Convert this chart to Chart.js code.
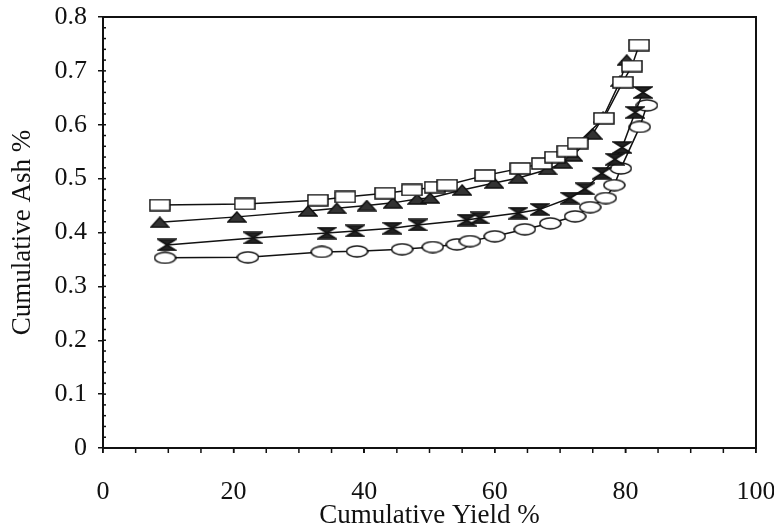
<!DOCTYPE html>
<html>
<head>
<meta charset="utf-8">
<script src="https://cdn.jsdelivr.net/npm/chart.js@4"></script>
<style>
    html, body { margin: 0; padding: 0; background: #fff; }
    #wrap { width: 774px; height: 532px; }
</style>
</head>
<body>
<div id="wrap"><canvas id="ashChart" width="774" height="532"></canvas></div>
<script>
// (x = cumulative yield %, y = cumulative ash %)
var squareX   = [8.7, 21.7, 32.9, 37.1, 43.2, 47.3, 50.8, 52.7, 58.5, 63.9, 67.2, 69.2, 71.1, 72.7, 76.7, 79.6, 81.0, 82.1];
var squareY   = [0.451, 0.453, 0.460, 0.466, 0.473, 0.479, 0.484, 0.488, 0.506, 0.519, 0.528, 0.540, 0.551, 0.566, 0.612, 0.679, 0.709, 0.748];
var triangleX = [8.7, 20.5, 31.4, 35.8, 40.4, 44.4, 48.1, 50.1, 55.0, 59.9, 63.6, 68.1, 70.4, 72.0, 75.0, 76.6, 79.2, 80.2];
var triangleY = [0.419, 0.429, 0.440, 0.445, 0.450, 0.455, 0.462, 0.464, 0.479, 0.492, 0.501, 0.517, 0.529, 0.542, 0.583, 0.614, 0.681, 0.720];
var hourX     = [9.8, 23.0, 34.3, 38.6, 44.3, 48.2, 55.7, 57.7, 63.6, 66.9, 71.5, 73.8, 76.4, 78.4, 79.5, 81.5, 82.7];
var hourY     = [0.377, 0.390, 0.399, 0.403, 0.408, 0.414, 0.423, 0.427, 0.436, 0.443, 0.464, 0.481, 0.510, 0.536, 0.558, 0.623, 0.660];
var circleX   = [9.5, 22.2, 33.5, 38.9, 45.8, 50.5, 54.2, 56.2, 60.0, 64.6, 68.5, 72.3, 74.6, 77.0, 78.3, 79.3, 82.2, 83.3];
var circleY   = [0.353, 0.354, 0.364, 0.365, 0.369, 0.373, 0.378, 0.384, 0.393, 0.406, 0.417, 0.430, 0.447, 0.464, 0.488, 0.519, 0.596, 0.636];

var xTicks = [0, 20, 40, 60, 80, 100];
var yTicks = [0, 0.1, 0.2, 0.3, 0.4, 0.5, 0.6, 0.7, 0.8];

var FONT = '"Liberation Serif", "DejaVu Serif", serif';

// Zip two arrays into {x, y} points
function toPoints(xs, ys) {
    var pts = [];
    for (var i = 0; i < xs.length; i++) {
        pts.push({ x: xs[i], y: ys[i] });
    }
    return pts;
}

// Small offscreen canvases used as point markers
function makeMarker(w, h, drawFn) {
    var c = document.createElement('canvas');
    c.width = w;
    c.height = h;
    var ctx = c.getContext('2d');
    ctx.lineWidth = 1.5;
    ctx.strokeStyle = '#111';
    ctx.fillStyle = '#fff';
    drawFn(ctx, w, h);
    return c;
}

var squareMarker = makeMarker(22, 13, function(ctx, w, h) {
    ctx.fillRect(1, 1, w - 2, h - 2);
    ctx.strokeRect(1, 1, w - 2, h - 2);
});

var triangleMarker = makeMarker(20, 12, function(ctx, w, h) {
    ctx.fillStyle = '#333';
    ctx.beginPath();
    ctx.moveTo(w / 2, 1);
    ctx.lineTo(w - 1, h - 1);
    ctx.lineTo(1, h - 1);
    ctx.closePath();
    ctx.fill();
    ctx.stroke();
});

var hourMarker = makeMarker(20, 13, function(ctx, w, h) {
    ctx.fillStyle = '#222';
    ctx.beginPath();
    ctx.moveTo(1, 1);
    ctx.lineTo(w - 1, 1);
    ctx.lineTo(w / 2, h / 2);
    ctx.lineTo(w - 1, h - 1);
    ctx.lineTo(1, h - 1);
    ctx.lineTo(w / 2, h / 2);
    ctx.closePath();
    ctx.fill();
    ctx.stroke();
});

var circleMarker = makeMarker(23, 13, function(ctx, w, h) {
    ctx.beginPath();
    ctx.ellipse(w / 2, h / 2, w / 2 - 1, h / 2 - 1, 0, 0, Math.PI * 2);
    ctx.fill();
    ctx.stroke();
});

function series(label, xs, ys, marker) {
    return {
        label: label,
        data: toPoints(xs, ys),
        borderColor: '#111',
        borderWidth: 1.5,
        pointStyle: marker,
        pointRadius: 6,
        pointHoverRadius: 6,
        fill: false,
        tension: 0
    };
}

// Frame round the plot area plus the minor ticks
var framePlugin = {
    id: 'frame',
    afterDraw: function(chart) {
        var ctx = chart.ctx;
        var a = chart.chartArea;
        var xs = chart.scales.x;
        var ys = chart.scales.y;
        var v, p;
        ctx.save();
        ctx.strokeStyle = '#111';
        ctx.lineWidth = 1.5;
        // minor ticks on y, inside
        for (v = 0; v <= 80; v += 2) {
            p = ys.getPixelForValue(v / 100);
            ctx.beginPath();
            ctx.moveTo(a.left, p);
            ctx.lineTo(a.left + 3, p);
            ctx.stroke();
        }
        // minor ticks on x, below
        for (v = 0; v <= 100; v += 5) {
            p = xs.getPixelForValue(v);
            ctx.beginPath();
            ctx.moveTo(p, a.bottom);
            ctx.lineTo(p, a.bottom + 5);
            ctx.stroke();
        }
        ctx.lineWidth = 2;
        ctx.strokeRect(a.left, a.top, a.right - a.left, a.bottom - a.top);
        ctx.restore();
    }
};

new Chart(document.getElementById('ashChart'), {
    type: 'line',
    data: {
        datasets: [
            series('squares', squareX, squareY, squareMarker),
            series('triangles', triangleX, triangleY, triangleMarker),
            series('hourglass', hourX, hourY, hourMarker),
            series('circles', circleX, circleY, circleMarker)
        ]
    },
    options: {
        responsive: false,
        animation: false,
        layout: { padding: { top: 17, right: 18, left: 0, bottom: 0 } },
        plugins: {
            legend: { display: false },
            tooltip: { enabled: false }
        },
        scales: {
            x: {
                type: 'linear',
                min: 0,
                max: 100,
                afterFit: function(scale) {
                    scale.height = 84;
                    scale.paddingLeft = 0;   // let "100" hang past the frame
                    scale.paddingRight = 0;
                },
                afterBuildTicks: function(scale) {
                    scale.ticks = xTicks.map(function(v) { return { value: v }; });
                },
                border: { display: false },
                grid: { drawOnChartArea: false, tickLength: 5, color: '#111', lineWidth: 1.5 },
                ticks: {
                    color: '#111',
                    padding: 24,
                    maxRotation: 0,
                    autoSkip: false,
                    font: { family: FONT, size: 26 }
                },
                title: {
                    display: true,
                    text: 'Cumulative Yield %',
                    color: '#111',
                    padding: { top: 0, bottom: 0 },
                    font: { family: FONT, size: 27 }
                }
            },
            y: {
                type: 'linear',
                min: 0,
                max: 0.8,
                afterFit: function(scale) {
                    scale.width = 103;
                    scale.paddingTop = 0;
                    scale.paddingBottom = 0;
                },
                afterBuildTicks: function(scale) {
                    scale.ticks = yTicks.map(function(v) { return { value: v }; });
                },
                border: { display: false },
                grid: { drawOnChartArea: false, tickLength: 5, color: '#111', lineWidth: 1.5 },
                ticks: {
                    color: '#111',
                    padding: 11,
                    autoSkip: false,
                    font: { family: FONT, size: 26 },
                    callback: function(v) { return v === 0 ? '0' : v.toFixed(1); }
                },
                title: {
                    display: true,
                    text: 'Cumulative Ash %',
                    color: '#111',
                    padding: { top: 7, bottom: 0 },
                    font: { family: FONT, size: 27 }
                }
            }
        }
    },
    plugins: [framePlugin]
});
</script>
</body>
</html>
